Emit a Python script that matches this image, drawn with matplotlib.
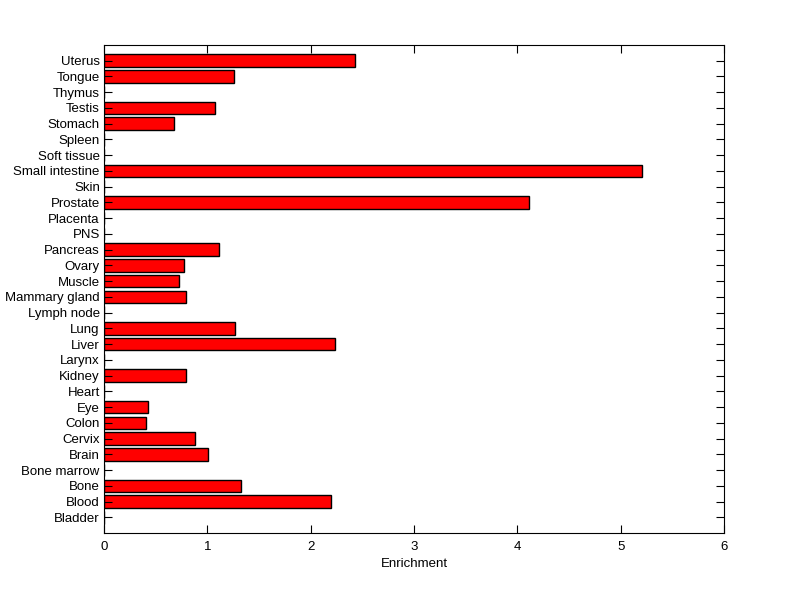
import matplotlib
matplotlib.use("Agg")
import matplotlib.pyplot as plt
import numpy as np

plt.rcParams['font.family'] = ['Liberation Sans', 'DejaVu Sans']

categories = ["Bladder", "Blood", "Bone", "Bone marrow", "Brain", "Cervix", "Colon", "Eye",
              "Heart", "Kidney", "Larynx", "Liver", "Lung", "Lymph node", "Mammary gland",
              "Muscle", "Ovary", "Pancreas", "PNS", "Placenta", "Prostate", "Skin",
              "Small intestine", "Soft tissue", "Spleen", "Stomach", "Testis", "Thymus",
              "Tongue", "Uterus"]
values = [0, 2.20, 1.33, 0, 1.01, 0.88, 0.41, 0.43,
          0, 0.79, 0, 2.24, 1.27, 0, 0.79,
          0.73, 0.77, 1.11, 0, 0, 4.11, 0,
          5.21, 0, 0, 0.68, 1.07, 0,
          1.26, 2.43]
xticks = [0, 1, 2, 3, 4, 5, 6]

fig = plt.figure(figsize=(8, 5.99), dpi=100)
ax = fig.add_axes([0.13, 0.110, 0.775, 0.815])
pos = np.arange(1, len(categories) + 1)
ax.barh(pos, values, height=0.8, color='#ff0000', edgecolor='black', linewidth=1.0)
ax.set_ylim(0, len(categories) + 1)
ax.set_xlim(0, 6)
ax.set_yticks(pos)
ax.set_yticklabels(categories, fontsize=9.5)
ax.set_xticks(xticks)
ax.set_xticklabels([str(t) for t in xticks], fontsize=9.5)
ax.set_xlabel("Enrichment", fontsize=9.5, labelpad=3)
ax.tick_params(axis='y', direction='in', length=6, width=0.8, right=True, pad=3, colors='black')
ax.tick_params(axis='x', direction='in', length=6, width=0.8, top=True, pad=6, colors='black')
for s in ax.spines.values():
    s.set_linewidth(0.8)
fig.savefig("out.png", dpi=100)
